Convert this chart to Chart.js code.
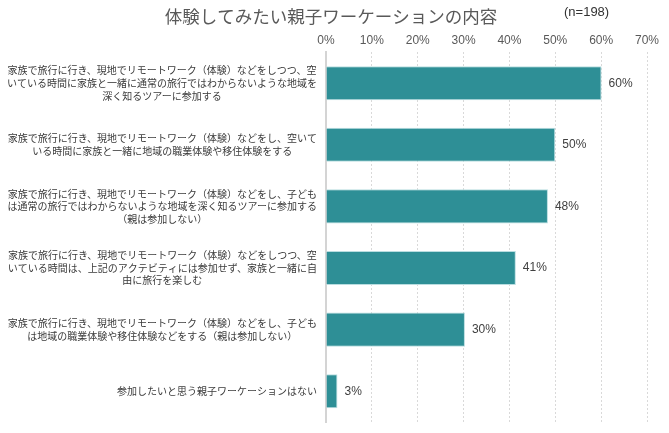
<!DOCTYPE html>
<html lang="ja">
<head>
<meta charset="utf-8">
<script src="https://cdn.jsdelivr.net/npm/chart.js@4/dist/chart.umd.min.js"></script>
<style>
    body { margin: 0; background: #fff; }
    .wrap { width: 669px; height: 433px; position: relative; }
</style>
</head>
<body>
<div class="wrap"><canvas id="chart"></canvas></div>
<script>
const categories = [
    ['家族で旅行に行き、現地でリモートワーク（体験）などをしつつ、空', 'いている時間に家族と一緒に通常の旅行ではわからないような地域を', '深く知るツアーに参加する'],
    ['家族で旅行に行き、現地でリモートワーク（体験）などをし、空いて', 'いる時間に家族と一緒に地域の職業体験や移住体験をする'],
    ['家族で旅行に行き、現地でリモートワーク（体験）などをし、子ども', 'は通常の旅行ではわからないような地域を深く知るツアーに参加する', '（親は参加しない）'],
    ['家族で旅行に行き、現地でリモートワーク（体験）などをしつつ、空', 'いている時間は、上記のアクテビティには参加せず、家族と一緒に自', '由に旅行を楽しむ'],
    ['家族で旅行に行き、現地でリモートワーク（体験）などをし、子ども', 'は地域の職業体験や移住体験などをする（親は参加しない）'],
    ['参加したいと思う親子ワーケーションはない']
];
const percents = [60.1, 50.0, 48.4, 41.4, 30.3, 2.5];
const xTicks = [0, 10, 20, 30, 40, 50, 60, 70];
const titleText = '体験してみたい親子ワーケーションの内容';
const sampleText = '(n=198)';

const jpFont = '"Noto Sans CJK JP", "Noto Sans", sans-serif';
const numFont = '"Liberation Sans", Arial, sans-serif';

// category labels: each block centred on itself, block right-aligned to the axis
const categoryLabels = {
    id: 'categoryLabels',
    afterDraw(chart) {
        const y = chart.scales.y;
        const ctx = chart.ctx;
        const lineH = 12.6;
        ctx.save();
        ctx.font = '10px ' + jpFont;
        ctx.fillStyle = '#3a3a3a';
        ctx.textAlign = 'center';
        ctx.textBaseline = 'middle';
        categories.forEach(function (lines, i) {
            const w = Math.max.apply(null, lines.map(function (l) { return ctx.measureText(l).width; }));
            const cx = y.right - 9 - w / 2;
            const cy = y.getPixelForTick(i);
            lines.forEach(function (l, j) {
                ctx.fillText(l, cx, cy + (j - (lines.length - 1) / 2) * lineH);
            });
        });
        ctx.restore();
    }
};

// value labels at the end of each bar
const valueLabels = {
    id: 'valueLabels',
    afterDatasetsDraw(chart) {
        const ctx = chart.ctx;
        const meta = chart.getDatasetMeta(0);
        ctx.save();
        ctx.font = '12px ' + numFont;
        ctx.fillStyle = '#404040';
        ctx.textAlign = 'left';
        ctx.textBaseline = 'middle';
        meta.data.forEach(function (bar, i) {
            ctx.fillText(Math.round(percents[i]) + '%', bar.x + 7, bar.y);
        });
        ctx.restore();
    }
};

const sampleNote = {
    id: 'sampleNote',
    afterDraw(chart) {
        const ctx = chart.ctx;
        ctx.save();
        ctx.font = '13px ' + numFont;
        ctx.fillStyle = '#333333';
        ctx.textAlign = 'left';
        ctx.textBaseline = 'middle';
        ctx.fillText(sampleText, 564, 12);
        ctx.restore();
    }
};

new Chart(document.getElementById('chart'), {
    type: 'bar',
    data: {
        labels: categories,
        datasets: [{
            data: percents,
            backgroundColor: '#2E8F96',
            borderColor: '#b9dde0',
            borderWidth: 1,
            categoryPercentage: 1,
            barPercentage: 0.553
        }]
    },
    options: {
        indexAxis: 'y',
        responsive: true,
        maintainAspectRatio: false,
        animation: false,
        layout: { padding: { top: 0, right: 22, bottom: 11, left: 15 } },
        plugins: {
            legend: { display: false },
            tooltip: { enabled: false },
            title: {
                display: true,
                text: titleText,
                color: '#595959',
                font: { family: jpFont, size: 17.5, weight: 'normal' },
                padding: { top: 6, bottom: 0 }
            }
        },
        scales: {
            x: {
                position: 'top',
                min: 0,
                max: 70,
                afterBuildTicks: function (scale) {
                    scale.ticks = xTicks.map(function (v) { return { value: v }; });
                },
                afterFit: function (scale) { scale.height = 25.4; },
                ticks: {
                    padding: 5,
                    color: '#595959',
                    font: { family: numFont, size: 12 },
                    callback: function (v) { return v + '%'; }
                },
                grid: { color: '#d9d9d9', lineWidth: 1, drawTicks: false },
                border: { display: false, dash: [2, 2] }
            },
            y: {
                afterFit: function (scale) { scale.width = 311; },
                ticks: { display: false },
                grid: { display: false },
                border: { display: true, color: '#d4d4d4', width: 2 }
            }
        }
    },
    plugins: [categoryLabels, valueLabels, sampleNote]
});
</script>
</body>
</html>
